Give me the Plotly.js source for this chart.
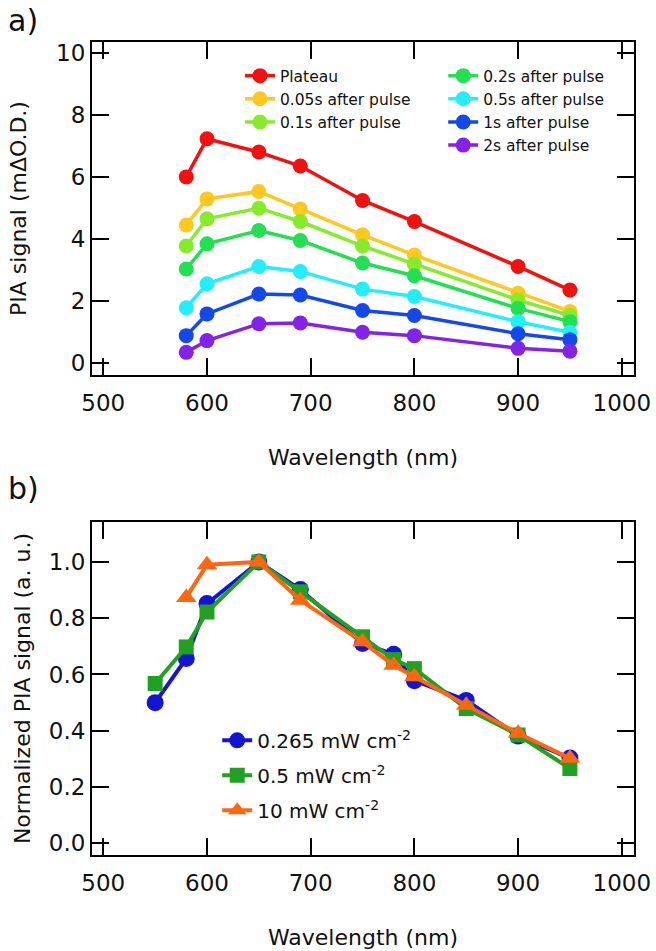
<!DOCTYPE html>
<html>
<head>
<meta charset="utf-8">
<script src="https://cdn.plot.ly/plotly-3.0.1.min.js"></script>
<style>html,body{margin:0;padding:0;background:#fff;}</style>
</head>
<body>
<div id="chart" style="width:656px;height:951px;"></div>
<script>
// Panel a data
const wavelengthsA = [580, 600, 650, 690, 750, 800, 900, 950];
const plateau  = [6.00, 7.23, 6.80, 6.35, 5.24, 4.56, 3.11, 2.35];
const after005 = [4.45, 5.29, 5.53, 4.96, 4.13, 3.48, 2.25, 1.66];
const after01  = [3.77, 4.65, 4.99, 4.56, 3.77, 3.19, 2.03, 1.53];
const after02  = [3.03, 3.84, 4.27, 3.95, 3.22, 2.81, 1.76, 1.33];
const after05  = [1.78, 2.55, 3.11, 2.95, 2.38, 2.14, 1.33, 0.99];
const after1   = [0.88, 1.58, 2.22, 2.19, 1.69, 1.53, 0.94, 0.75];
const after2   = [0.34, 0.72, 1.26, 1.29, 0.99, 0.88, 0.47, 0.38];
const namesA = ["Plateau", "0.05s after pulse", "0.1s after pulse", "0.2s after pulse",
                "0.5s after pulse", "1s after pulse", "2s after pulse"];

// Panel b data
const wavelengthsB = [550, 580, 600, 650, 690, 750, 780, 800, 850, 900, 950];
const wavelengthsB10 = [580, 600, 650, 690, 750, 780, 800, 850, 900, 950];
const norm0265 = [0.500, 0.657, 0.852, 1.000, 0.902, 0.710, 0.672, 0.578, 0.508, 0.381, 0.303];
const norm05   = [0.568, 0.698, 0.822, 1.000, 0.894, 0.734, 0.653, 0.621, 0.479, 0.385, 0.266];
const norm10   = [0.874, 0.990, 1.000, 0.864, 0.716, 0.633, 0.592, 0.491, 0.391, 0.302];
const namesB = ["0.265 mW cm<sup>-2</sup>", "0.5 mW cm<sup>-2</sup>", "10 mW cm<sup>-2</sup>"];

const colorsA = ["#f21010", "#ffc81e", "#86ec2a", "#22e052", "#22eefc", "#1448ea", "#8422ea"];
const colorsB = ["#1414d2", "#22a022", "#ff6614"];

const seriesA = [plateau, after005, after01, after02, after05, after1, after2];
const traces = [];
seriesA.forEach((ys, i) => {
  traces.push({
    x: wavelengthsA, y: ys, name: namesA[i], type: "scatter", mode: "lines+markers",
    xaxis: "x", yaxis: "y",
    legend: i < 3 ? "legend" : "legend2",
    line: {color: colorsA[i], width: 3.5},
    marker: {color: colorsA[i], size: 15, symbol: "circle"}
  });
});
const seriesB = [[wavelengthsB, norm0265, "circle", 17], [wavelengthsB, norm05, "square", 15], [wavelengthsB10, norm10, "triangle-up", 18]];
seriesB.forEach((s, i) => {
  traces.push({
    x: s[0], y: s[1], name: namesB[i], type: "scatter", mode: "lines+markers",
    xaxis: "x2", yaxis: "y2", legend: "legend3", legendgroup: "g" + i,
    line: {color: colorsB[i], width: 4},
    marker: {color: colorsB[i], size: s[3], symbol: s[2]}
  });
});

const font = "DejaVu Sans, Liberation Sans, sans-serif";
const axisCommon = {
  showline: true, linecolor: "#000", linewidth: 2, mirror: "ticks",
  ticks: "inside", ticklen: 17, tickwidth: 2, tickcolor: "#000",
  showgrid: false, zeroline: false,
  tickfont: {family: font, size: 23, color: "#111"}
};
const layout = {
  width: 656, height: 951,
  margin: {l: 92, r: 22, t: 42, b: 96},
  paper_bgcolor: "#fff", plot_bgcolor: "#fff",
  font: {family: font, color: "#111"},
  xaxis: Object.assign({}, axisCommon, {
    domain: [0, 1], anchor: "y", range: [489.1, 1011.8], tickvals: [500, 600, 700, 800, 900, 1000],
    ticklabelstandoff: 6,
    title: {text: "Wavelength (nm)", font: {family: font, size: 22, color: "#111"}, standoff: 35}
  }),
  yaxis: Object.assign({}, axisCommon, {
    domain: [0.5904, 1], anchor: "x", range: [-0.39, 10.35], tickvals: [0, 2, 4, 6, 8, 10],
    title: {text: "PIA signal (mΔO.D.)", font: {family: font, size: 22, color: "#111"}, standoff: 23}
  }),
  xaxis2: Object.assign({}, axisCommon, {
    domain: [0, 1], anchor: "y2", range: [489.1, 1011.8], tickvals: [500, 600, 700, 800, 900, 1000],
    ticklabelstandoff: 6,
    title: {text: "Wavelength (nm)", font: {family: font, size: 22, color: "#111"}, standoff: 35}
  }),
  yaxis2: Object.assign({}, axisCommon, {
    domain: [0, 0.4096], anchor: "x2", range: [-0.0415, 1.142], tickvals: [0, 0.2, 0.4, 0.6, 0.8, 1.0],
    tickformat: ".1f",
    title: {text: "Normalized PIA signal (a. u.)", font: {family: font, size: 22, color: "#111"}, standoff: 12}
  }),
  legend: {x: 0.273, y: 0.979, xanchor: "left", yanchor: "top", bgcolor: "rgba(0,0,0,0)",
           font: {family: font, size: 15.5, color: "#111"}, tracegroupgap: 0},
  legend2: {x: 0.648, y: 0.979, xanchor: "left", yanchor: "top", bgcolor: "rgba(0,0,0,0)",
           font: {family: font, size: 15.5, color: "#111"}, tracegroupgap: 0},
  legend3: {x: 0.231, y: 0.165, xanchor: "left", yanchor: "top", bgcolor: "rgba(0,0,0,0)",
           font: {family: font, size: 20, color: "#111"}, tracegroupgap: 6},
  showlegend: true,
  annotations: [
    {text: "a)", xref: "paper", yref: "paper", x: -0.127, y: 1.026, xanchor: "center", yanchor: "middle",
     showarrow: false, font: {family: font, size: 30, color: "#111"}},
    {text: "b)", xref: "paper", yref: "paper", x: -0.127, y: 0.451, xanchor: "center", yanchor: "middle",
     showarrow: false, font: {family: font, size: 30, color: "#111"}}
  ]
};
Plotly.newPlot("chart", traces, layout, {displayModeBar: false, staticPlot: true});
</script>
</body>
</html>
